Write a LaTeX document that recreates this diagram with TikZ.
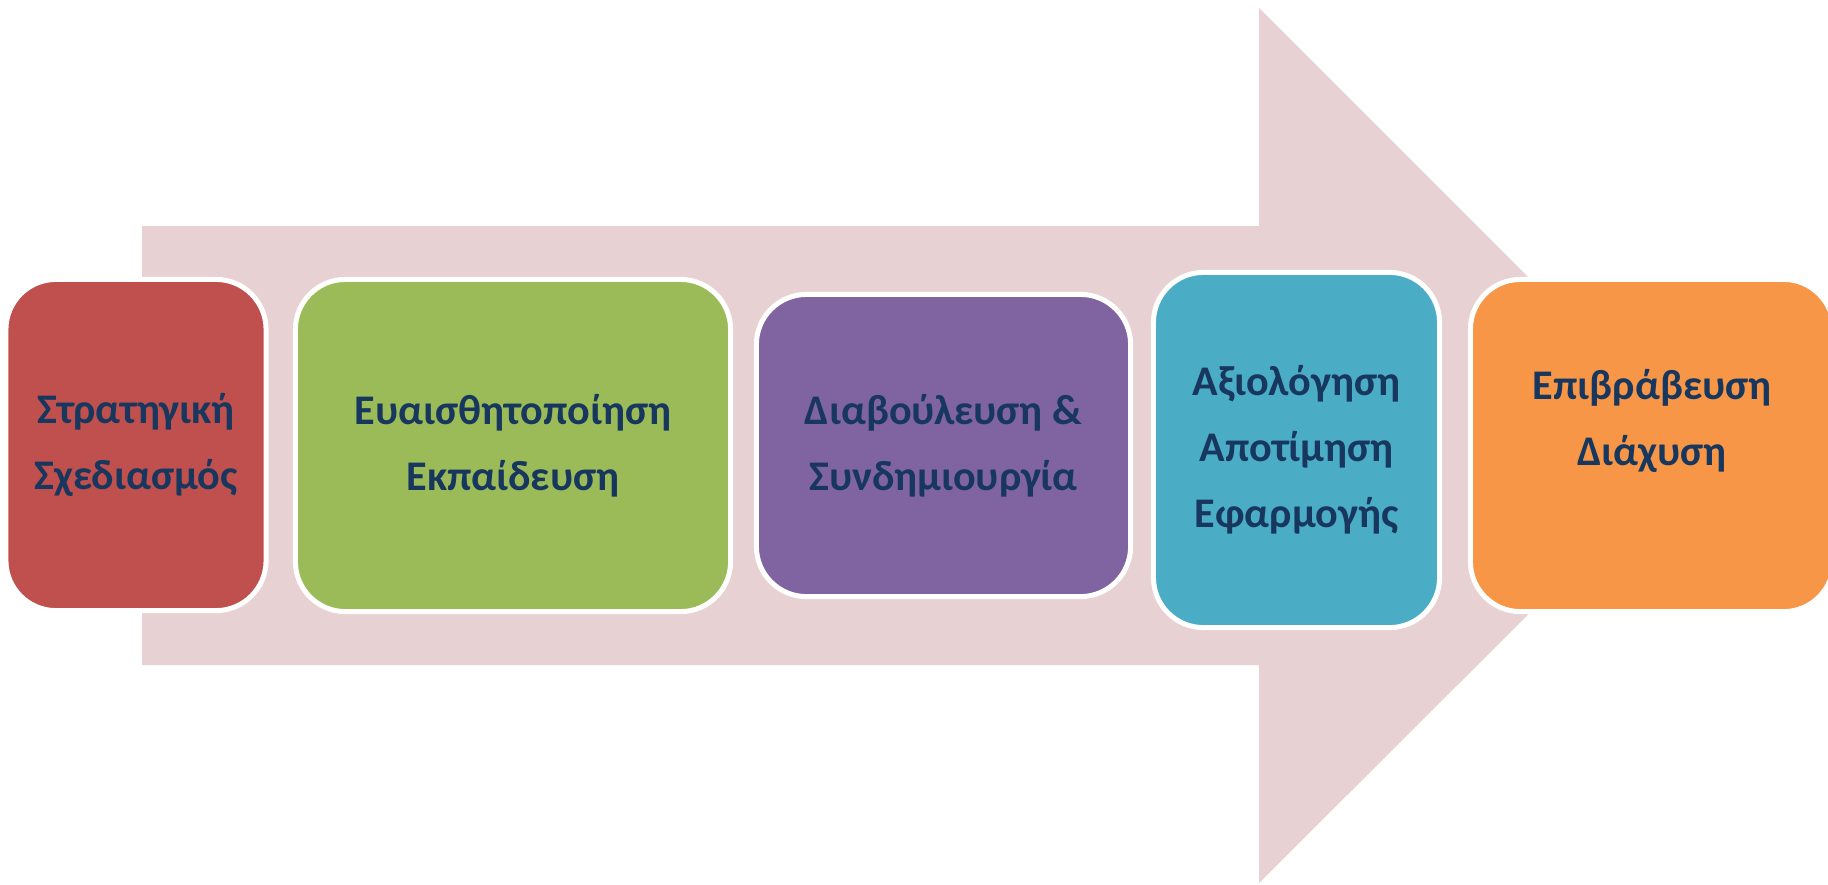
\documentclass[tikz,border=0pt]{standalone}
\usepackage{fontspec}
\setmainfont{Carlito}
\definecolor{arrowpink}{HTML}{E7D1D2}
\definecolor{textnavy}{HTML}{17375E}
\definecolor{stepred}{HTML}{C0504D}
\definecolor{stepgreen}{HTML}{9BBB59}
\definecolor{steppurple}{HTML}{8064A2}
\definecolor{stepaqua}{HTML}{4BACC6}
\definecolor{steporange}{HTML}{F79646}
\begin{document}
\begin{tikzpicture}[x=0.01cm,y=-0.01cm,
    stage/.style={draw=white,line width=0.05cm,rounded corners=0.5cm,
      align=center,text=textnavy,inner sep=0pt,
      font=\fontsize{12}{18.8}\selectfont\bfseries}]
    \useasboundingbox (0,0) rectangle (1828,884);
    \fill[arrowpink] (142,226) -- (1259,226) -- (1259,8) -- (1697,446)
      -- (1259,883) -- (1259,665) -- (142,665) -- cycle;
    \node[stage,fill=stepred,minimum width=2.6cm,minimum height=3.31cm] (strat) at (136,445) {Στρατηγική\\Σχεδιασμός};
    \node[stage,fill=stepgreen,minimum width=4.35cm,minimum height=3.32cm] (aware) at (513,445.5) {Ευαισθητοποίηση\\Εκπαίδευση};
    \node[stage,fill=steppurple,minimum width=3.74cm,minimum height=3.02cm] (consult) at (943.5,445.5) {Διαβούλευση \&\\Συνδημιουργία};
    \node[stage,fill=stepaqua,minimum width=2.86cm,minimum height=3.55cm] (eval) at (1296.5,450) {Αξιολόγηση\\Αποτίμηση\\Εφαρμογής};
    \node[stage,fill=steporange,minimum width=3.63cm,minimum height=3.32cm,text depth=0.56cm] (reward) at (1652,445.5) {Επιβράβευση\\Διάχυση};
\end{tikzpicture}
\end{document}
